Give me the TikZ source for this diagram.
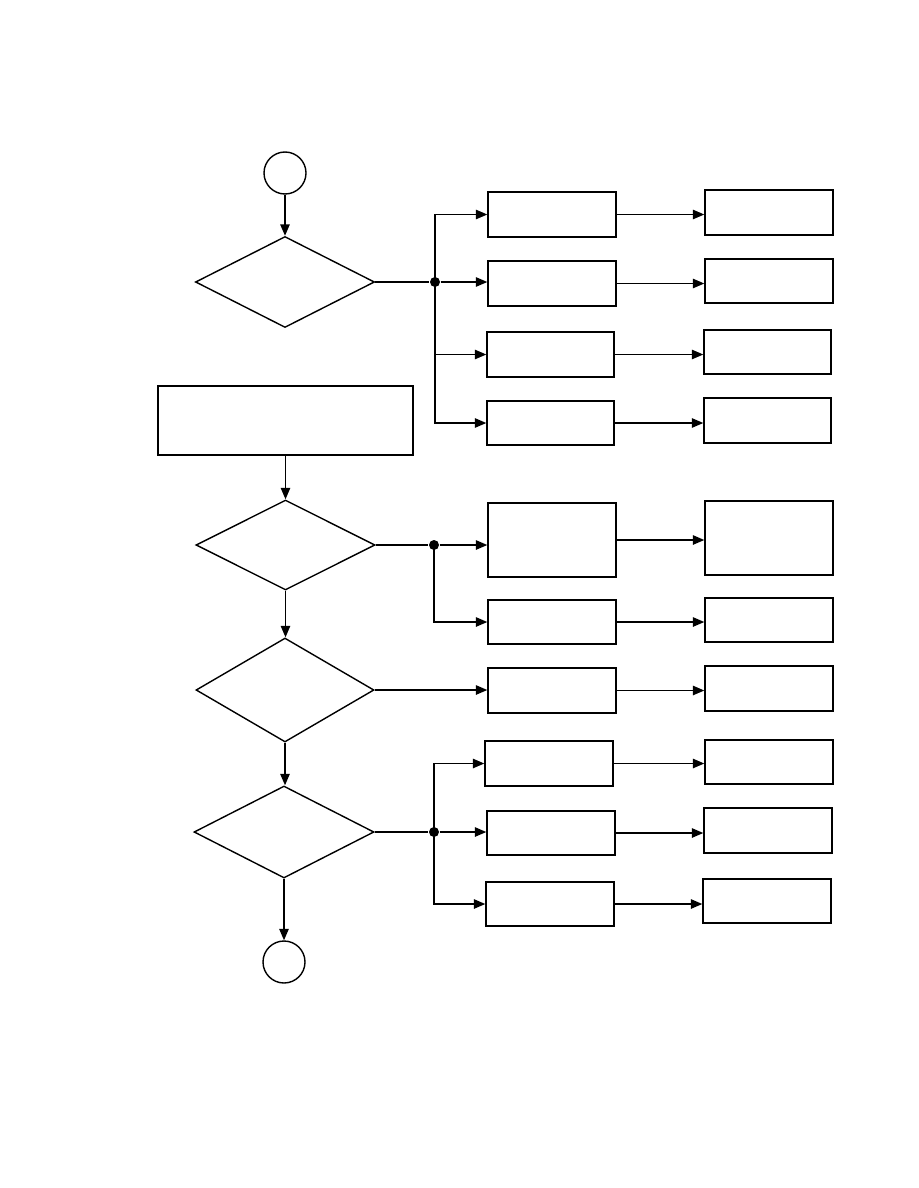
\documentclass[tikz,border=0pt]{standalone}
\usetikzlibrary{shapes.geometric,arrows.meta,fit}
\begin{document}
\begin{tikzpicture}[x=0.75pt,y=-0.75pt,
  line width=1.05pt,
  box/.style={draw,rectangle,inner sep=0pt,line width=1.05pt},
  dec/.style={draw,diamond,inner sep=0pt,line width=1.05pt},
  term/.style={draw,circle,inner sep=0pt,minimum size=31.5pt,line width=1.05pt},
  junc/.style={circle,fill=black,inner sep=0pt,minimum size=7.5pt},
  arr/.style={-{Triangle[length=8.5pt,width=7pt]}}]
\useasboundingbox (0,0) rectangle (918,1188);
% terminals
\node[term] (c1) at (285,173) {};
\node[term] (c2) at (284,962) {};
% decisions
\node[dec,minimum width=134.25pt,minimum height=68.25pt] (d1) at (285,282) {};
\node[dec,minimum width=134.25pt,minimum height=67.5pt] (d2) at (285.5,545) {};
\node[dec,minimum width=133.5pt,minimum height=78pt] (d3) at (285,690) {};
\node[dec,minimum width=135pt,minimum height=69pt] (d4) at (284,832) {};
% process box
\node[box,fit={(158,386) (413,455)}] (p) {};
% column A
\node[box,fit={(488,192) (616,237)}] (a1) {};
\node[box,fit={(488,261) (616,306)}] (a2) {};
\node[box,fit={(487,332) (614,377)}] (a3) {};
\node[box,fit={(487,401) (614,445)}] (a4) {};
\node[box,fit={(488,503) (616,577)}] (a5) {};
\node[box,fit={(488,600) (616,644)}] (a6) {};
\node[box,fit={(488,668) (616,713)}] (a7) {};
\node[box,fit={(485,741) (613,786)}] (a8) {};
\node[box,fit={(487,811) (615,855)}] (a9) {};
\node[box,fit={(486,882) (614,926)}] (a10) {};
% column B
\node[box,fit={(705,190) (833,235)}] (b1) {};
\node[box,fit={(705,259) (833,303)}] (b2) {};
\node[box,fit={(704,330) (831,374)}] (b3) {};
\node[box,fit={(704,398) (831,443)}] (b4) {};
\node[box,fit={(705,501) (833,575)}] (b5) {};
\node[box,fit={(705,598) (833,642)}] (b6) {};
\node[box,fit={(705,666) (833,711)}] (b7) {};
\node[box,fit={(705,740) (833,784)}] (b8) {};
\node[box,fit={(704,808) (832,853)}] (b9) {};
\node[box,fit={(703,879) (831,923)}] (b10) {};
% junctions
\node[junc] (j1) at (435,282) {};
\node[junc] (j2) at (434,545) {};
\node[junc] (j4) at (434,832) {};
% main flow
\draw[arr] (c1) -- (d1);
\draw (d1.east) -- (j1);
\draw[arr] (p.south -| d2.north) -- (d2.north);
\draw[arr] (d2.south) -- (d2.south |- d3.north);
\draw[arr] (d3.south) -- (d3.south |- d4.north);
\draw[arr] (d4.south) -- (d4.south |- c2.north);
\draw (d2.east) -- (j2);
\draw (d4.east) -- (j4);
% branches group 1
\draw[arr] (j1.center) |- (a1.west);
\draw[arr] (j1) -- (j1 -| a2.west);
\draw[arr] (j1.center) |- (a3.west);
\draw[arr] (j1.center) |- (a4.west);
% branches group 2
\draw[arr] (j2) -- (j2 -| a5.west);
\draw[arr] (j2.center) |- (a6.west);
% branch 3
\draw[arr] (d3.east) -- (d3.east -| a7.west);
% branches group 4
\draw[arr] (j4.center) |- (a8.west);
\draw[arr] (j4) -- (j4 -| a9.west);
\draw[arr] (j4.center) |- (a10.west);
% A to B
\foreach \i in {1,...,10}{
  \draw[arr] (a\i.east) -- (a\i.east -| b\i.west);
}
\end{tikzpicture}
\end{document}
